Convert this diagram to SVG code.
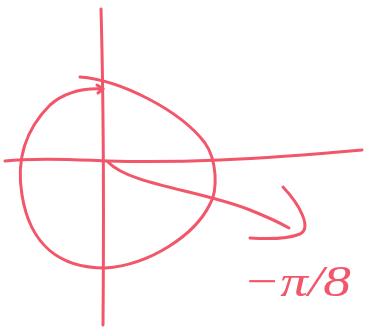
<svg xmlns="http://www.w3.org/2000/svg" width="365" height="330" viewBox="0 0 365 330">
<style>
.s{fill:none;stroke:#f2566a;stroke-width:3;stroke-linecap:round;stroke-linejoin:round}
.t{fill:#f2566a;font-family:"Liberation Serif",serif;font-style:italic}
</style>
<rect width="365" height="330" fill="#fff"/>
<g id="axes">
<path class="s" d="M101,9 C103,80 104,200 103,325"/>
<path class="s" d="M5,161 C40,157 80,160 108,161 C180,163 250,160 362,150"/>
</g>
<g id="circle">
<path class="s" d="M80,77 C120,80 180,110 205,143 C217,160 218,190 210,204 C195,235 150,265 105,268 C60,268 30,245 22,195 C16,160 25,130 50,105 C65,92 85,88 103,89"/>
<path class="s" d="M97,85 L103,89 L98,93"/>
</g>
<g id="connectors">
<path class="s" d="M108,162 C130,185 200,190 250,210 C270,218 282,224 289,228"/>
<path class="s" d="M283,187 C300,205 312,228 300,234 C285,240 265,239 250,238"/>
</g>
<g id="label">
<text class="t" x="243" y="296" font-size="44" textLength="108" lengthAdjust="spacingAndGlyphs">−π/8</text>
</g>
</svg>
